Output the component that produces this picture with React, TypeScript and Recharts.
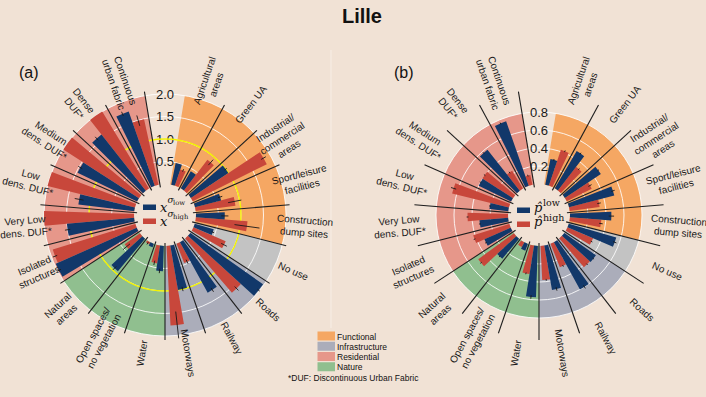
import React from 'react';
import {
  RadialBarChart,
  RadialBar,
  PolarAngleAxis,
  PolarRadiusAxis,
  PolarGrid,
  Cell,
  Sector,
} from 'recharts';

// ---------- data ----------
const categories = [
  '',
  'Agricultural\nareas',
  'Green UA',
  'Industrial/\ncommercial\nareas',
  'Sport/leisure\nfacilities',
  'Construction\ndump sites',
  'No use',
  'Roads',
  'Railway',
  'Motorways',
  'Water',
  'Open spaces/\nno vegetation',
  'Natural\nareas',
  'Isolated\nstructures',
  'Very Low\ndens. DUF*',
  'Low\ndens. DUF*',
  'Medium\ndens. DUF*',
  'Dense\nDUF*',
  'Continuous\nurban fabric',
];

const groupOf = [
  'gap',
  'Functional', 'Functional', 'Functional', 'Functional', 'Functional',
  'NoUse',
  'Infrastructure', 'Infrastructure', 'Infrastructure',
  'Nature', 'Nature', 'Nature',
  'Residential', 'Residential', 'Residential', 'Residential', 'Residential', 'Residential',
];

// panel (a): x^{sigma_low} (blue), x^{sigma_high} (red)
const lowA = [null, 0.49, 0.44, 1.0, 0.6, 0.64, 0.44, 1.98, 1.28, 1.0, 0.56, 0.08, 0.94, 1.97, 1.5, 1.25, 1.47, 1.59, 1.75];
const highA = [null, 0.38, 0.86, 1.84, 0.89, 1.15, 0.78, 1.59, 0.46, 1.77, 0.4, 0.05, 0.42, 1.92, 2.0, 2.0, 2.0, 2.0, 1.49];
const errLowA = [0, 0, 0, 0.03, 0.05, 0.08, 0.03, 0.03, 0.05, 0.05, 0.05, 0, 0.05, 0.05, 0.06, 0.1, 0.05, 0.05, 0.05];
const errHighA = [0, 0.03, 0.08, 0.06, 0.15, 0.28, 0.07, 0.06, 0.05, 0.3, 0.05, 0.03, 0.1, 0.05, 0, 0, 0, 0, 0.12];

// panel (b): p-hat low (blue), p-hat high (red)
const lowB = [null, 0.29, 0.48, 0.48, 0.52, 0.46, 0.55, 0.43, 0.6, 0.5, 0.57, 0.08, 0.29, 0.32, 0.32, 0.21, 0.4, 0.58, 0.76];
const highB = [null, 0.42, 0.33, 0.31, 0.335, 0.35, 0.31, 0.42, 0.28, 0.38, 0.32, 0.06, 0.49, 0.42, 0.45, 0.65, 0.405, 0.23, 0.11];
const errLowB = [0, 0.01, 0.01, 0.01, 0.02, 0.03, 0.02, 0.01, 0.02, 0.02, 0.02, 0, 0.01, 0.01, 0.01, 0.01, 0.01, 0.01, 0.01];
const errHighB = [0, 0.01, 0.01, 0.02, 0.02, 0.02, 0.01, 0.01, 0.01, 0.01, 0.01, 0, 0.01, 0.01, 0.01, 0.03, 0.01, 0.01, 0.01];

const ticksA = [0.5, 1.0, 1.5, 2.0];
const ticksB = [0.2, 0.4, 0.6, 0.8];
const legendGroups = ['Functional', 'Infrastructure', 'Residential', 'Nature'];

// ---------- styles ----------
const BG = '#f1e2d5';
const BLUE = '#12386a';
const RED = '#c8473b';
const groupColor: Record<string, string> = {
  gap: 'transparent',
  Functional: '#f5a763',
  Infrastructure: '#abadba',
  Residential: '#e6978a',
  Nature: '#90bf8f',
  NoUse: '#c3c3c3',
};

const HALF = 360 / categories.length / 2;
// recharts places each category one band further along; start half a band before the top
const START = 90 - HALF;
const END = START - 360;
const SIZE = 360;
const C = SIZE / 2;
const CY_PAGE = 215;
const RAD = Math.PI / 180;

function pt(cx: number, cy: number, r: number, a: number): [number, number] {
  return [cx + r * Math.cos(-a * RAD), cy + r * Math.sin(-a * RAD)];
}

function buildRows(low: any[], high: any[], el: number[], eh: number[], max: number) {
  return categories.map((name, i) => ({
    name: name || 'gap',
    group: groupOf[i],
    low: low[i],
    high: high[i],
    elow: el[i],
    ehigh: eh[i],
    wedge: i === 0 ? null : max,
    sep: i === 0 ? null : 1,
  }));
}

function BarShape(props: any) {
  const { cx, cy, innerRadius, outerRadius, startAngle, endAngle, fill, payload, vk, ek } = props;
  const v = payload ? payload[vk] : null;
  const e = payload ? payload[ek] || 0 : 0;
  if (v == null || !(outerRadius > innerRadius)) return <g />;
  const per = (outerRadius - innerRadius) / v;
  const mid = (startAngle + endAngle) / 2;
  const r1 = innerRadius + per * Math.max(0, v - e);
  const r2 = innerRadius + per * (v + e);
  const [x1, y1] = pt(cx, cy, r1, mid);
  const [x2, y2] = pt(cx, cy, r2, mid);
  return (
    <g>
      <Sector cx={cx} cy={cy} innerRadius={innerRadius} outerRadius={outerRadius} startAngle={startAngle} endAngle={endAngle} fill={fill} />
      {e > 0 && <line x1={x1} y1={y1} x2={x2} y2={y2} stroke="#1a1a1a" strokeWidth={0.9} />}
    </g>
  );
}

function SepShape(props: any) {
  const { cx, cy, innerRadius, outerRadius, startAngle, endAngle, payload } = props;
  if (!payload || payload.sep == null) return <g />;
  const edge = Math.min(startAngle, endAngle);
  const mid = (startAngle + endAngle) / 2;
  const [x1, y1] = pt(cx, cy, innerRadius, edge);
  const [x2, y2] = pt(cx, cy, outerRadius, edge);
  const [lx, ly] = pt(cx, cy, outerRadius + 15, mid);
  const clock = (((90 - mid) % 360) + 360) % 360;
  let rot = clock - 90;
  if (clock > 180) rot = clock - 270;
  const lines = String(payload.name).split('\n');
  const lh = 12.5;
  return (
    <g>
      <line x1={x1} y1={y1} x2={x2} y2={y2} stroke="#1e1e1e" strokeWidth={1.1} />
      <text
        transform={`rotate(${rot}, ${lx}, ${ly})`}
        fontFamily="'Liberation Sans', Arial, sans-serif"
        fontSize={10}
        fill="#1a1a1a"
        textAnchor="middle"
      >
        {lines.map((t, i) => (
          <tspan key={i} x={lx} y={ly + (i - (lines.length - 1) / 2) * lh} dominantBaseline="central">
            {t}
          </tspan>
        ))}
      </text>
    </g>
  );
}

function RTick(props: any) {
  const { x, y, payload } = props;
  return (
    <text x={x} y={y} textAnchor="middle" dominantBaseline="central" fontFamily="'Liberation Sans', Arial, sans-serif" fontSize={13} fill="#1a1a1a">
      {Number(payload.value).toFixed(1)}
    </text>
  );
}

const Empty = () => <g />;

function Panel({ centerX, rows, max, ticks, yellow }: any) {
  const common: any = {
    width: SIZE,
    height: SIZE,
    cx: C,
    cy: C,
    startAngle: START,
    endAngle: END,
    data: rows,
    layout: 'centric',
    margin: { top: 0, right: 0, bottom: 0, left: 0 },
  };
  const pos: React.CSSProperties = { position: 'absolute', left: centerX - C, top: CY_PAGE - C };
  const angleAxis = <PolarAngleAxis type="category" dataKey="name" axisLine={false} tickLine={false} tick={false} />;
  return (
    <>
      <div style={pos}>
        <RadialBarChart {...common} innerRadius={31} outerRadius={121} barCategoryGap={0} barGap={0}>
          {angleAxis}
          <PolarRadiusAxis type="number" domain={[0, max]} axisLine={false} tickLine={false} tick={false} />
          <RadialBar dataKey="wedge" isAnimationActive={false}>
            {rows.map((r: any, i: number) => (
              <Cell key={i} fill={groupColor[r.group]} />
            ))}
          </RadialBar>
        </RadialBarChart>
      </div>
      <div style={pos}>
        <RadialBarChart {...common} innerRadius={31} outerRadius={121}>
          <PolarGrid gridType="circle" radialLines={false} stroke="#ffffff" strokeOpacity={0.85} strokeWidth={1} />
          {angleAxis}
          <PolarRadiusAxis type="number" domain={[0, max]} ticks={ticks} angle={90} axisLine={false} tickLine={false} tick={<RTick />} />
          <RadialBar dataKey="wedge" isAnimationActive={false} shape={Empty} />
        </RadialBarChart>
      </div>
      {yellow && (
        <div style={pos}>
          <RadialBarChart {...common} innerRadius={31} outerRadius={121}>
            <PolarGrid gridType="circle" radialLines={false} stroke="#f2f200" strokeWidth={1.3} />
            {angleAxis}
            <PolarRadiusAxis type="number" domain={[0, max]} ticks={[max / 2]} axisLine={false} tickLine={false} tick={false} />
            <RadialBar dataKey="wedge" isAnimationActive={false} shape={Empty} />
          </RadialBarChart>
        </div>
      )}
      <div style={pos}>
        <RadialBarChart {...common} innerRadius={31} outerRadius={121} barCategoryGap="15%" barGap={0}>
          {angleAxis}
          <PolarRadiusAxis type="number" domain={[0, max]} allowDataOverflow axisLine={false} tickLine={false} tick={false} />
          {/* recharts lays the first series on the clockwise side, so red goes first to put blue counter-clockwise */}
          <RadialBar dataKey="high" fill={RED} isAnimationActive={false} shape={(p: any) => <BarShape {...p} vk="high" ek="ehigh" />} />
          <RadialBar dataKey="low" fill={BLUE} isAnimationActive={false} shape={(p: any) => <BarShape {...p} vk="low" ek="elow" />} />
        </RadialBarChart>
      </div>
      <div style={pos}>
        <RadialBarChart {...common} innerRadius={28} outerRadius={125} barCategoryGap={0} barGap={0}>
          {angleAxis}
          <PolarRadiusAxis type="number" domain={[0, 1]} axisLine={false} tickLine={false} tick={false} />
          <RadialBar dataKey="sep" fill="none" isAnimationActive={false} shape={(p: any) => <SepShape {...p} />} />
        </RadialBarChart>
      </div>
    </>
  );
}

const rowsA = buildRows(lowA, highA, errLowA, errHighA, 2);
const rowsB = buildRows(lowB, highB, errLowB, errHighB, 0.8);

const sans = "'Liberation Sans', Arial, Helvetica, sans-serif";
const serif = "'DejaVu Serif', 'Liberation Serif', serif";

export default function App() {
  return (
    <div style={{ position: 'absolute', left: 0, top: 0, width: 706, height: 397, background: BG, overflow: 'hidden' }}>
      <svg width={706} height={397} style={{ position: 'absolute', left: 0, top: 0 }}>
        <line x1={331} y1={50} x2={331} y2={328} stroke="#f7eee6" strokeWidth={1} />
      </svg>
      <Panel centerX={165} rows={rowsA} max={2} ticks={ticksA} yellow />
      <Panel centerX={539} rows={rowsB} max={0.8} ticks={ticksB} yellow={false} />
      <svg width={706} height={397} style={{ position: 'absolute', left: 0, top: 0 }}>
        <text x={362} y={23} textAnchor="middle" fontFamily={sans} fontWeight="bold" fontSize={20} fill="#111">Lille</text>
        <text x={19} y={78} fontFamily={sans} fontSize={16} fill="#111">(a)</text>
        <text x={394} y={78} fontFamily={sans} fontSize={16} fill="#111">(b)</text>

        {/* center legend (a) */}
        <rect x={143} y={204.5} width={13} height={5.5} fill={BLUE} />
        <rect x={143} y={218.5} width={13} height={5.5} fill={RED} />
        <text fontFamily={serif} fill="#111">
          <tspan x={160} y={211.5} fontSize={13} fontStyle="italic">x</tspan>
          <tspan x={167.5} y={202.5} fontSize={9} fontStyle="italic">σ</tspan>
          <tspan x={173} y={205} fontSize={6.8}>low</tspan>
        </text>
        <text fontFamily={serif} fill="#111">
          <tspan x={160} y={225.5} fontSize={13} fontStyle="italic">x</tspan>
          <tspan x={167.5} y={216.5} fontSize={9} fontStyle="italic">σ</tspan>
          <tspan x={173} y={219} fontSize={6.8}>high</tspan>
        </text>

        {/* center legend (b) */}
        <rect x={517} y={207.5} width={13} height={5.5} fill={BLUE} />
        <rect x={517} y={221.5} width={13} height={5.5} fill={RED} />
        <text fontFamily={serif} fill="#111">
          <tspan x={534} y={211.5} fontSize={13} fontStyle="italic">p̂</tspan>
          <tspan x={543} y={206} fontSize={9.5}>low</tspan>
        </text>
        <text fontFamily={serif} fill="#111">
          <tspan x={534} y={226} fontSize={13} fontStyle="italic">p̂</tspan>
          <tspan x={543} y={220.5} fontSize={9.5}>high</tspan>
        </text>

        {/* category legend */}
        {legendGroups.map((g, i) => (
          <g key={g}>
            <rect x={317.5} y={331.5 + i * 10.25} width={17.5} height={9} fill={groupColor[g]} />
            <text x={337} y={339.5 + i * 10.25} fontFamily={sans} fontSize={8.5} fill="#111">{g}</text>
          </g>
        ))}
        <text x={288} y={381} fontFamily={sans} fontSize={8.5} fill="#111">*DUF: Discontinuous Urban Fabric</text>
      </svg>
    </div>
  );
}
